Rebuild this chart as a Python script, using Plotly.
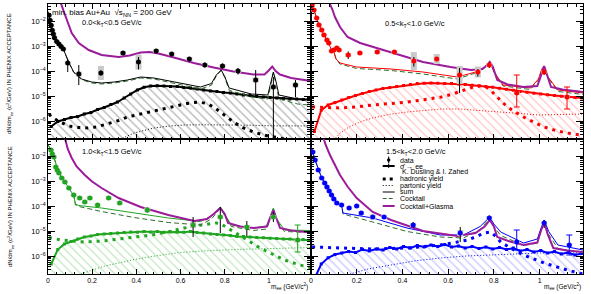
import plotly.graph_objects as go

# ---------------------------------------------------------------- data
# all yields are stored as log10(dN/dm_ee)
hist_m = [0.015, 0.045, 0.075, 0.105, 0.135, 0.165, 0.195, 0.225, 0.255, 0.285,
          0.315, 0.345, 0.375, 0.405, 0.435, 0.465, 0.495, 0.525, 0.555, 0.585,
          0.615, 0.645, 0.675, 0.705, 0.735, 0.765, 0.795, 0.825, 0.855, 0.885,
          0.915, 0.945, 0.975, 1.005, 1.035, 1.065, 1.095, 1.125, 1.155, 1.185]

# ---- panel 1 : 0.0<kT<0.5
tl_x = [0.005, 0.01, 0.015, 0.02, 0.025, 0.03, 0.04, 0.05, 0.06, 0.07,
        0.09, 0.14, 0.24, 0.34, 0.41, 0.49, 0.56, 0.64, 0.71, 0.79, 0.86, 0.94, 1.02, 1.12]
tl_y = [-1.75, -1.95, -2.15, -2.35, -2.5, -2.65, -2.8, -2.9, -3.0, -3.1,
        -3.66, -4.1, -4.06, -3.26, -3.62, -3.18, -3.3, -3.5, -3.74, -3.78, -3.98, -4.34, -4.62, -4.54]
tl_elo = [0.03, 0.03, 0.03, 0.03, 0.03, 0.03, 0.03, 0.03, 0.04, 0.05,
          0.36, 0.44, 0.1, 0.08, 0.3, 0.08, 0.08, 0.08, 0.1, 0.1, 0.14, 0.6, 2.5, 0.48]
tl_ehi = [0.03, 0.03, 0.03, 0.03, 0.03, 0.03, 0.03, 0.03, 0.04, 0.05,
          0.16, 0.36, 0.1, 0.07, 0.2, 0.08, 0.08, 0.08, 0.1, 0.1, 0.12, 0.4, 0.4, 0.2]
tl_sys = [0.06, 0.06, 0.06, 0.06, 0.06, 0.06, 0.06, 0.06, 0.06, 0.06,
          0.06, 0.1, 0.28, 0.08, 0.3, 0.08, 0.08, 0.08, 0.08, 0.08, 0.08, 0.1, 0.1, 0.1]
tl_cbar = [0, 0, 0, 0, 0, 0, 0, 0, 0, 0, 0, 0, 0, 0, 0, 0, 0, 0, 0, 0, 0, 0, 0, 0]
tl_glasma_x = [0.05, 0.054, 0.07, 0.086, 0.108, 0.14, 0.185, 0.243, 0.32, 0.37, 0.42, 0.46, 0.5,
               0.57, 0.66, 0.75, 0.84, 0.93, 0.98, 1.0, 1.015, 1.03, 1.05, 1.1, 1.19]
tl_glasma_y = [-1.0, -1.14, -1.55, -1.94, -2.46, -2.86, -3.14, -3.34, -3.42, -3.36, -3.24, -3.22, -3.28,
               -3.44, -3.66, -3.84, -4.0, -4.12, -4.12, -3.95, -3.8, -3.98, -4.12, -4.26, -4.38]
tl_sum_x = [0.0, 0.01, 0.02, 0.03, 0.05, 0.07, 0.094, 0.117, 0.153, 0.198, 0.243, 0.3, 0.36, 0.42,
            0.48, 0.57, 0.69, 0.74, 0.762, 0.784, 0.8, 0.82, 0.92, 0.995, 1.008, 1.02, 1.032, 1.045, 1.13, 1.19]
tl_sum_y = [-1.6, -1.95, -2.35, -2.65, -2.9, -3.1, -3.62, -4.02, -4.3, -4.42, -4.46, -4.42, -4.34, -4.22,
            -4.26, -4.42, -4.62, -4.48, -4.14, -3.94, -4.2, -4.66, -4.9, -4.94, -4.4, -4.02, -4.4, -4.94, -5.1, -5.12]
tl_cock_y = [-1.6, -1.95, -2.35, -2.65, -2.9, -3.1, -3.62, -4.04, -4.33, -4.46, -4.5, -4.46, -4.38, -4.26,
             -4.3, -4.48, -4.7, -4.55, -4.18, -3.96, -4.24, -4.75, -5.02, -5.1, -4.5, -4.05, -4.5, -5.1, -5.3, -5.35]
tl_hist = [-6.2, -6.0, -5.92, -5.84, -5.8, -5.7, -5.64, -5.52, -5.44, -5.32,
           -5.22, -5.06, -4.9, -4.74, -4.63, -4.58, -4.57, -4.58, -4.6, -4.6,
           -4.64, -4.66, -4.7, -4.74, -4.78, -4.8, -4.84, -4.86, -4.9, -4.94,
           -4.96, -5.0, -5.02, -5.04, -5.06, -5.08, -5.1, -5.1, -5.12, -5.12]
tl_had_x = [0.005, 0.018, 0.05, 0.094, 0.14, 0.18, 0.22, 0.27, 0.32, 0.36, 0.42, 0.47, 0.52, 0.57,
            0.63, 0.68, 0.72, 0.75, 0.79, 0.84, 0.88, 0.93, 0.98, 1.02, 1.06, 1.12, 1.19]
tl_had_y = [-5.7, -5.82, -6.0, -6.18, -6.24, -6.26, -6.22, -6.1, -5.96, -5.82, -5.7, -5.6, -5.48, -5.38,
            -5.28, -5.22, -5.28, -5.42, -5.7, -6.02, -6.24, -6.42, -6.55, -6.62, -6.68, -6.75, -6.8]
tl_part_x = [0.3, 0.33, 0.39, 0.44, 0.48, 0.55, 0.62, 0.7, 0.77, 0.85, 0.92, 1.0, 1.07, 1.19]
tl_part_y = [-6.8, -6.7, -6.46, -6.34, -6.26, -6.18, -6.14, -6.13, -6.13, -6.14, -6.15, -6.17, -6.18, -6.18]

# ---- panel 2 : 0.5<kT<1.0
tr_x = [0.005, 0.013, 0.025, 0.035, 0.047, 0.057, 0.07, 0.078, 0.09, 0.1, 0.113, 0.123,
        0.163, 0.214, 0.29, 0.365, 0.45, 0.55, 0.65, 0.73, 0.78, 0.9, 1.02, 1.12]
tr_y = [-1.34, -1.54, -1.86, -2.14, -2.34, -2.54, -2.74, -2.86, -3.18, -3.14, -3.06, -3.14,
        -3.34, -3.26, -3.22, -3.22, -3.58, -3.5, -4.14, -4.02, -3.74, -4.86, -4.02, -5.02]
tr_elo = [0.03, 0.03, 0.03, 0.03, 0.03, 0.03, 0.03, 0.03, 0.03, 0.03, 0.03, 0.03,
          0.16, 0.05, 0.05, 0.05, 0.22, 0.06, 0.72, 0.18, 0.12, 0.56, 0.12, 0.48]
tr_ehi = [0.03, 0.03, 0.03, 0.03, 0.03, 0.03, 0.03, 0.03, 0.03, 0.03, 0.03, 0.03,
          0.14, 0.05, 0.05, 0.05, 0.16, 0.06, 0.28, 0.12, 0.08, 0.72, 0.08, 0.4]
tr_sys = [0.06, 0.06, 0.06, 0.06, 0.06, 0.06, 0.06, 0.06, 0.06, 0.06, 0.06, 0.06,
          0.08, 0.07, 0.07, 0.07, 0.36, 0.2, 0.36, 0.22, 0.08, 0.06, 0.06, 0.06]
tr_cbar = [0, 0, 0, 0, 0, 0, 0, 0, 0, 0, 0, 0, 0, 0, 0, 0, 0, 0, 0, 0, 0, 1, 0, 1]
tr_glasma_x = [0.075, 0.083, 0.095, 0.105, 0.127, 0.16, 0.215, 0.29, 0.377, 0.49, 0.61, 0.7, 0.75,
               0.77, 0.782, 0.795, 0.815, 0.86, 0.93, 0.99, 1.005, 1.02, 1.035, 1.05, 1.1, 1.19]
tr_glasma_y = [-1.0, -1.3, -1.55, -1.82, -2.22, -2.62, -2.86, -3.06, -3.3, -3.62, -3.82, -3.94, -3.9,
               -3.75, -3.62, -3.8, -4.34, -4.52, -4.62, -4.58, -4.2, -3.78, -4.2, -4.62, -4.72, -4.82]
tr_sum_x = [0.0, 0.013, 0.025, 0.035, 0.047, 0.057, 0.07, 0.078, 0.09, 0.1, 0.11, 0.127, 0.2, 0.35,
            0.49, 0.64, 0.72, 0.76, 0.782, 0.8, 0.84, 0.96, 0.995, 1.01, 1.02, 1.035, 1.08, 1.19]
tr_sum_y = [-1.3, -1.54, -1.86, -2.14, -2.34, -2.54, -2.74, -2.9, -3.12, -3.2, -3.5, -3.66, -3.82, -3.9,
            -4.02, -4.22, -4.02, -3.82, -3.62, -4.0, -4.54, -4.66, -4.3, -3.9, -3.78, -4.2, -4.74, -4.86]
tr_cock_y = [-1.3, -1.54, -1.86, -2.14, -2.34, -2.54, -2.74, -2.9, -3.12, -3.2, -3.52, -3.7, -3.88, -3.96,
             -4.1, -4.3, -4.06, -3.84, -3.62, -4.02, -4.58, -4.72, -4.34, -3.92, -3.78, -4.22, -4.8, -4.92]
tr_hist = [-6.4, -5.55, -5.34, -5.24, -5.14, -5.04, -4.96, -4.88, -4.8, -4.74,
           -4.68, -4.64, -4.6, -4.56, -4.52, -4.48, -4.47, -4.46, -4.47, -4.48,
           -4.48, -4.5, -4.52, -4.55, -4.57, -4.6, -4.63, -4.67, -4.71, -4.75,
           -4.8, -4.83, -4.87, -4.9, -4.93, -4.96, -4.99, -5.02, -5.04, -5.06]
tr_had_x = [0.005, 0.06, 0.127, 0.2, 0.27, 0.35, 0.42, 0.5, 0.57, 0.62, 0.67, 0.71, 0.74, 0.77,
            0.785, 0.81, 0.84, 0.88, 0.93, 0.98, 1.02, 1.07, 1.12, 1.19]
tr_had_y = [-5.42, -5.44, -5.46, -5.42, -5.34, -5.28, -5.22, -5.12, -5.02, -4.9, -4.74, -4.62, -4.58, -4.64,
            -4.74, -4.98, -5.26, -5.55, -5.82, -6.05, -6.22, -6.36, -6.46, -6.56]
tr_part_x = [0.1, 0.127, 0.17, 0.22, 0.27, 0.34, 0.42, 0.5, 0.57, 0.65, 0.71, 0.78, 0.86, 0.93, 1.0, 1.08, 1.19]
tr_part_y = [-6.75, -6.46, -6.2, -6.0, -5.86, -5.72, -5.62, -5.55, -5.5, -5.5, -5.54, -5.58, -5.62, -5.68,
             -5.74, -5.72, -5.7]

# ---- panel 3 : 1.0<kT<1.5
bl_x = [0.014, 0.02, 0.027, 0.036, 0.043, 0.05, 0.063, 0.077, 0.095, 0.117, 0.144, 0.167, 0.19,
        0.225, 0.275, 0.325, 0.45, 0.657, 0.78, 0.9, 1.02, 1.13]
bl_y = [-1.74, -1.9, -2.02, -2.42, -2.55, -2.66, -2.86, -3.02, -3.26, -3.54, -3.66, -3.82, -3.66,
        -3.94, -3.66, -3.86, -4.14, -4.74, -4.42, -4.82, -4.42, -5.34]
bl_elo = [0.03, 0.03, 0.03, 0.03, 0.03, 0.03, 0.03, 0.03, 0.03, 0.05, 0.06, 0.07, 0.06,
          0.08, 0.06, 0.08, 0.1, 0.48, 0.64, 0.36, 0.2, 0.48]
bl_ehi = [0.03, 0.03, 0.03, 0.03, 0.03, 0.03, 0.03, 0.03, 0.03, 0.05, 0.06, 0.07, 0.06,
          0.08, 0.06, 0.08, 0.1, 0.32, 0.4, 0.24, 0.2, 0.6]
bl_sys = [0.06, 0.06, 0.06, 0.06, 0.06, 0.06, 0.06, 0.06, 0.06, 0.07, 0.07, 0.07, 0.07,
          0.07, 0.07, 0.08, 0.1, 0.12, 0.08, 0.08, 0.08, 0.08]
bl_cbar = [0, 0, 0, 0, 0, 0, 0, 0, 0, 0, 0, 0, 0, 0, 0, 0, 0, 0, 0, 0, 0, 1]
bl_glasma_x = [0.07, 0.077, 0.09, 0.108, 0.13, 0.167, 0.2, 0.243, 0.32, 0.42, 0.545, 0.662, 0.72, 0.75,
               0.78, 0.8, 0.815, 0.87, 0.93, 0.99, 1.005, 1.02, 1.035, 1.05, 1.1, 1.19]
bl_glasma_y = [-1.0, -1.24, -1.7, -2.06, -2.4, -2.74, -3.0, -3.26, -3.66, -4.02, -4.34, -4.58, -4.5, -4.3,
               -4.06, -4.3, -4.66, -4.8, -4.86, -4.8, -4.5, -4.14, -4.5, -4.86, -4.96, -5.04]
bl_sum_x = [0.0, 0.014, 0.027, 0.05, 0.077, 0.095, 0.117, 0.125, 0.14, 0.243, 0.39, 0.545, 0.69, 0.74,
            0.78, 0.8, 0.83, 0.93, 0.99, 1.005, 1.02, 1.035, 1.07, 1.19]
bl_sum_y = [-1.5, -1.74, -2.02, -2.66, -3.02, -3.26, -3.56, -3.9, -3.96, -4.06, -4.26, -4.46, -4.6, -4.38,
            -4.02, -4.3, -4.74, -4.86, -4.78, -4.4, -4.06, -4.5, -4.94, -4.96]
bl_cock_y = [-1.5, -1.74, -2.02, -2.66, -3.02, -3.26, -3.56, -3.94, -4.0, -4.2, -4.44, -4.64, -4.74, -4.5,
             -4.08, -4.36, -4.8, -4.96, -4.9, -4.5, -4.1, -4.58, -5.0, -5.04]
bl_hist = [-6.3, -5.72, -5.5, -5.4, -5.3, -5.22, -5.18, -5.12, -5.1, -5.08,
           -5.06, -5.04, -5.02, -5.03, -5.0, -5.02, -5.0, -5.03, -5.01, -5.02,
           -5.03, -5.0, -5.04, -5.06, -5.1, -5.12, -5.14, -5.16, -5.2, -5.2,
           -5.22, -5.24, -5.25, -5.27, -5.28, -5.3, -5.3, -5.33, -5.32, -5.35]
bl_had_x = [0.005, 0.06, 0.167, 0.25, 0.32, 0.4, 0.47, 0.55, 0.617, 0.68, 0.725, 0.76, 0.78, 0.81,
            0.84, 0.9, 0.96, 1.02, 1.07, 1.14, 1.19]
bl_had_y = [-5.24, -5.34, -5.42, -5.38, -5.3, -5.22, -5.14, -5.0, -4.86, -4.76, -4.7, -4.66, -4.68, -4.84,
            -5.02, -5.34, -5.66, -5.92, -6.14, -6.34, -6.45]
bl_part_x = [0.15, 0.25, 0.38, 0.47, 0.59, 0.7, 0.85, 1.0, 1.19]
bl_part_y = [-6.7, -6.4, -6.14, -6.0, -5.85, -5.78, -5.72, -5.68, -5.64]

# ---- panel 4 : 1.5<kT<2.0
br_x = [0.008, 0.018, 0.032, 0.047, 0.06, 0.07, 0.08, 0.09, 0.1, 0.113, 0.134, 0.167, 0.2, 0.22,
        0.27, 0.32, 0.447, 0.653, 0.78, 0.9, 1.02, 1.13]
br_y = [-1.82, -2.14, -2.54, -2.86, -3.06, -3.22, -3.38, -3.54, -3.7, -3.86, -3.94, -4.06, -3.98, -4.26,
        -4.42, -4.42, -4.74, -5.06, -4.46, -5.42, -4.66, -5.54]
br_elo = [0.03, 0.03, 0.03, 0.03, 0.03, 0.03, 0.03, 0.03, 0.03, 0.03, 0.04, 0.05, 0.05, 0.06,
          0.07, 0.07, 0.12, 0.36, 0.1, 0.32, 0.2, 0.4]
br_ehi = [0.03, 0.03, 0.03, 0.03, 0.03, 0.03, 0.03, 0.03, 0.03, 0.03, 0.04, 0.05, 0.05, 0.06,
          0.07, 0.07, 0.12, 0.24, 0.1, 0.48, 0.12, 0.4]
br_sys = [0.06, 0.06, 0.06, 0.06, 0.06, 0.06, 0.06, 0.06, 0.06, 0.06, 0.06, 0.06, 0.06, 0.07,
          0.1, 0.07, 0.08, 0.12, 0.08, 0.06, 0.06, 0.06]
br_cbar = [0, 0, 0, 0, 0, 0, 0, 0, 0, 0, 0, 0, 0, 0, 0, 0, 0, 0, 0, 1, 0, 1]
br_glasma_x = [0.045, 0.053, 0.065, 0.083, 0.105, 0.127, 0.16, 0.2, 0.27, 0.35, 0.49, 0.64, 0.72, 0.76,
               0.782, 0.8, 0.815, 0.87, 0.93, 0.99, 1.005, 1.02, 1.035, 1.06, 1.12, 1.19]
br_glasma_y = [-1.0, -1.24, -1.55, -1.94, -2.35, -2.74, -3.2, -3.66, -4.22, -4.54, -4.98, -5.18, -5.06, -4.8,
               -4.54, -4.8, -5.22, -5.4, -5.54, -5.44, -5.0, -4.62, -5.1, -5.66, -5.76, -5.82]
br_sum_x = [0.0, 0.018, 0.047, 0.07, 0.09, 0.113, 0.134, 0.14, 0.27, 0.42, 0.566, 0.667, 0.74, 0.782,
            0.8, 0.83, 0.93, 0.99, 1.005, 1.02, 1.04, 1.08, 1.19]
br_sum_y = [-1.6, -2.14, -2.86, -3.22, -3.54, -3.86, -3.94, -4.26, -4.46, -4.86, -5.14, -5.14, -4.8, -4.42,
            -4.7, -5.02, -5.46, -5.3, -4.9, -4.54, -5.0, -5.54, -5.74]
br_cock_y = [-1.6, -2.14, -2.86, -3.22, -3.54, -3.86, -3.96, -4.3, -4.62, -5.0, -5.22, -5.26, -4.92, -4.46,
             -4.8, -5.16, -5.56, -5.46, -5.0, -4.62, -5.12, -5.68, -5.86]
br_hist = [-6.9, -6.3, -6.05, -5.92, -5.86, -5.8, -5.84, -5.72, -5.78, -5.7,
           -5.74, -5.64, -5.7, -5.6, -5.66, -5.56, -5.62, -5.54, -5.6, -5.52,
           -5.62, -5.58, -5.66, -5.6, -5.68, -5.62, -5.7, -5.64, -5.72, -5.66,
           -5.78, -5.72, -5.82, -5.76, -5.86, -5.8, -5.9, -5.84, -5.94, -5.88]
br_had_x = [0.005, 0.127, 0.27, 0.42, 0.5, 0.566, 0.63, 0.685, 0.73, 0.755, 0.785, 0.81, 0.83, 0.88,
            0.93, 0.98, 1.02, 1.07, 1.12, 1.19]
br_had_y = [-5.62, -5.66, -5.7, -5.66, -5.6, -5.54, -5.44, -5.34, -5.18, -5.06, -5.02, -5.2, -5.42, -5.7,
            -5.94, -6.12, -6.26, -6.4, -6.54, -6.7]
br_part_x = [0.17, 0.25, 0.35, 0.45, 0.566, 0.68, 0.785, 0.9, 1.0, 1.1, 1.19]
br_part_y = [-6.7, -6.5, -6.34, -6.18, -6.06, -5.98, -5.94, -5.9, -5.86, -5.86, -5.86]

panel_labels = ["0.0&lt;k<sub>T</sub>&lt;0.5 GeV/c", "0.5&lt;k<sub>T</sub>&lt;1.0 GeV/c",
                "1.0&lt;k<sub>T</sub>&lt;1.5 GeV/c", "1.5&lt;k<sub>T</sub>&lt;2.0 GeV/c"]
legend_labels = ["data", "σ̄ → ee", "K. Dusling & I. Zahed", "hadronic yield", "partonic yield",
                 "sum", "Cocktail", "Cocktail+Glasma"]

# ---------------------------------------------------------------- style
W, H = 591, 294
PURPLE = '#9b1b9b'
COCK = '#2e6e2e'
GRAY = '#c9c9c9'
FONT = 'Liberation Sans, Arial, sans-serif'


def pw(v):
    return [10 ** a for a in v]


def px_x(px):
    return px / W


def px_y(py):
    return 1 - py / H


panels = [
    dict(xa='x', ya='y', col='#000000', hatch='rgba(0,0,0,0.6)',
         x=tl_x, y=tl_y, elo=tl_elo, ehi=tl_ehi, sys=tl_sys, cbar=tl_cbar,
         gx=tl_glasma_x, gy=tl_glasma_y, sx=tl_sum_x, sy=tl_sum_y, cy=tl_cock_y,
         h=tl_hist, hx=tl_had_x, hy=tl_had_y, px=tl_part_x, py=tl_part_y),
    dict(xa='x2', ya='y2', col='#ff0000', hatch='rgba(255,0,0,0.45)',
         x=tr_x, y=tr_y, elo=tr_elo, ehi=tr_ehi, sys=tr_sys, cbar=tr_cbar,
         gx=tr_glasma_x, gy=tr_glasma_y, sx=tr_sum_x, sy=tr_sum_y, cy=tr_cock_y,
         h=tr_hist, hx=tr_had_x, hy=tr_had_y, px=tr_part_x, py=tr_part_y),
    dict(xa='x3', ya='y3', col='#1fa51f', hatch='rgba(31,165,31,0.55)',
         x=bl_x, y=bl_y, elo=bl_elo, ehi=bl_ehi, sys=bl_sys, cbar=bl_cbar,
         gx=bl_glasma_x, gy=bl_glasma_y, sx=bl_sum_x, sy=bl_sum_y, cy=bl_cock_y,
         h=bl_hist, hx=bl_had_x, hy=bl_had_y, px=bl_part_x, py=bl_part_y),
    dict(xa='x4', ya='y4', col='#0000ff', hatch='rgba(0,0,255,0.45)',
         x=br_x, y=br_y, elo=br_elo, ehi=br_ehi, sys=br_sys, cbar=br_cbar,
         gx=br_glasma_x, gy=br_glasma_y, sx=br_sum_x, sy=br_sum_y, cy=br_cock_y,
         h=br_hist, hx=br_had_x, hy=br_had_y, px=br_part_x, py=br_part_y),
]

fig = go.Figure()
common = dict(showlegend=False, hoverinfo='skip')

for p in panels:
    ax = dict(xaxis=p['xa'], yaxis=p['ya'])
    col = p['col']
    # baseline for the hatched area
    fig.add_trace(go.Scatter(x=hist_m, y=[1e-9 for _ in hist_m], mode='lines',
                             line=dict(width=0, color='rgba(0,0,0,0)'), **ax, **common))
    fig.add_trace(go.Scatter(x=hist_m, y=pw(p['h']), mode='lines+markers',
                             line=dict(color=col, width=2),
                             marker=dict(symbol='square', size=3, color=col),
                             fill='tonexty', fillcolor='rgba(0,0,0,0)',
                             fillpattern=dict(shape='\\', fgcolor=p['hatch'], bgcolor='rgba(0,0,0,0)',
                                              size=6, solidity=0.2),
                             **ax, **common))
    # partonic / hadronic
    fig.add_trace(go.Scatter(x=p['px'], y=pw(p['py']), mode='lines',
                             line=dict(color=col, width=1, dash='1px,2px'), **ax, **common))
    fig.add_trace(go.Scatter(x=p['hx'], y=pw(p['hy']), mode='lines',
                             line=dict(color=col, width=3, dash='3px,5px'), **ax, **common))
    # cocktail, sum, glasma
    fig.add_trace(go.Scatter(x=p['sx'], y=pw(p['cy']), mode='lines',
                             line=dict(color=COCK, width=1, dash='5px,3px'), **ax, **common))
    fig.add_trace(go.Scatter(x=p['sx'], y=pw(p['sy']), mode='lines',
                             line=dict(color=col, width=1), **ax, **common))
    fig.add_trace(go.Scatter(x=p['gx'], y=pw(p['gy']), mode='lines',
                             line=dict(color=PURPLE, width=2), **ax, **common))
    # data: systematic boxes
    yv = pw(p['y'])
    sys_hi = [10 ** (a + s) - 10 ** a for a, s in zip(p['y'], p['sys'])]
    sys_lo = [10 ** a - 10 ** (a - s) for a, s in zip(p['y'], p['sys'])]
    fig.add_trace(go.Scatter(x=p['x'], y=yv, mode='markers', marker=dict(size=1, color='rgba(0,0,0,0)'),
                             error_y=dict(type='data', symmetric=False, array=sys_hi, arrayminus=sys_lo,
                                          color=GRAY, thickness=6, width=0),
                             **ax, **common))
    # data: statistical bars and markers
    for flag in (0, 1):
        idx = [i for i, c in enumerate(p['cbar']) if c == flag]
        if not idx:
            continue
        xs = [p['x'][i] for i in idx]
        ys = [p['y'][i] for i in idx]
        ehi = [10 ** (p['y'][i] + p['ehi'][i]) - 10 ** p['y'][i] for i in idx]
        elo = [10 ** p['y'][i] - 10 ** (p['y'][i] - p['elo'][i]) for i in idx]
        fig.add_trace(go.Scatter(x=xs, y=pw(ys), mode='markers',
                                 marker=dict(symbol='circle', size=5, color=col),
                                 error_y=dict(type='data', symmetric=False, array=ehi, arrayminus=elo,
                                              color=('#000000' if flag == 0 else col),
                                              thickness=1, width=(0 if flag == 0 else 3)),
                                 **ax, **common))

# ---------------------------------------------------------------- axes
xl = [46 / W, 310 / W]
xr = [310 / W, 583 / W]
yt = [1 - 139 / H, 1 - 4 / H]
yb = [1 - 274 / H, 1 - 139 / H]


def xaxis(domain, anchor, labels):
    return dict(domain=domain, anchor=anchor, range=[0, 1.19], tick0=0, dtick=0.2,
                ticks='inside', ticklen=5, tickwidth=1, tickcolor='black',
                showline=True, linecolor='black', linewidth=1, mirror='allticks',
                showgrid=False, zeroline=False, showticklabels=labels,
                tickfont=dict(size=7, color='black', family=FONT),
                minor=dict(dtick=0.04, ticks='inside', ticklen=2.5, tickcolor='black', showgrid=False))


def yaxis(domain, anchor, labels):
    return dict(domain=domain, anchor=anchor, type='log', range=[-6.7, -1.3], dtick=1,
                exponentformat='power', showexponent='all',
                ticks='inside', ticklen=7, tickwidth=1, tickcolor='black',
                showline=True, linecolor='black', linewidth=1, mirror='allticks',
                showgrid=False, zeroline=False, showticklabels=labels,
                tickfont=dict(size=6, color='black', family=FONT),
                minor=dict(ticks='inside', ticklen=3.5, tickcolor='black', showgrid=False))


fig.update_layout(
    width=W, height=H, margin=dict(l=0, r=0, t=0, b=0),
    paper_bgcolor='white', plot_bgcolor='white',
    font=dict(family=FONT, color='black'),
    xaxis=xaxis(xl, 'y', False), yaxis=yaxis(yt, 'x', True),
    xaxis2=xaxis(xr, 'y2', False), yaxis2=yaxis(yt, 'x2', False),
    xaxis3=xaxis(xl, 'y3', True), yaxis3=yaxis(yb, 'x3', True),
    xaxis4=xaxis(xr, 'y4', True), yaxis4=yaxis(yb, 'x4', False),
)

ann = []
ytitle = "dN/dm<sub>ee</sub> (c<sup>2</sup>/GeV) IN PHENIX ACCEPTANCE"
for cy in (73, 206):
    ann.append(dict(text=ytitle, x=px_x(8), y=px_y(cy), xref='paper', yref='paper',
                    textangle=-90, showarrow=False, font=dict(size=6),
                    xanchor='center', yanchor='middle'))
for rx in (309, 583):
    ann.append(dict(text="m<sub>ee</sub> (GeV/c<sup>2</sup>)", x=px_x(rx), y=px_y(286),
                    xref='paper', yref='paper', showarrow=False, font=dict(size=6.5),
                    xanchor='right', yanchor='middle'))
ann.append(dict(text="min. bias Au+Au  √s<sub>NN</sub> = 200 GeV", x=px_x(48), y=px_y(13),
                xref='paper', yref='paper', showarrow=False, font=dict(size=8),
                xanchor='left', yanchor='middle'))
for (lx, ly), txt in zip([(78, 23), (382, 24), (78, 152), (383, 152)], panel_labels):
    ann.append(dict(text=txt, x=px_x(lx), y=px_y(ly), xref='paper', yref='paper',
                    showarrow=False, font=dict(size=7.5), xanchor='left', yanchor='middle'))

leg_rows = [160, 166, 172, 179, 185.5, 192, 198.5, 206]
leg_x = [397, 397, 399, 397, 397, 397, 397, 397]
for lbl, ry, lx in zip(legend_labels, leg_rows, leg_x):
    ann.append(dict(text=lbl, x=px_x(lx), y=px_y(ry), xref='paper', yref='paper',
                    showarrow=False, font=dict(size=7), xanchor='left', yanchor='middle'))
fig.update_layout(annotations=ann)

shapes = []
sx0, sx1 = px_x(382), px_x(394)
# data
shapes.append(dict(type='circle', xref='paper', yref='paper', x0=px_x(386.3), x1=px_x(389.7),
                   y0=px_y(161.7), y1=px_y(158.3), fillcolor='black', line=dict(width=0)))
shapes.append(dict(type='line', xref='paper', yref='paper', x0=px_x(388), x1=px_x(388),
                   y0=px_y(163.5), y1=px_y(156.5), line=dict(color='black', width=1)))
# sigma -> ee
shapes.append(dict(type='line', xref='paper', yref='paper', x0=sx0, x1=sx1,
                   y0=px_y(166), y1=px_y(166), line=dict(color='black', width=2)))
shapes.append(dict(type='line', xref='paper', yref='paper', x0=px_x(388), x1=px_x(388),
                   y0=px_y(168), y1=px_y(164), line=dict(color='black', width=1)))
# hadronic
shapes.append(dict(type='line', xref='paper', yref='paper', x0=sx0, x1=sx1,
                   y0=px_y(179), y1=px_y(179), line=dict(color='black', width=3, dash='3px,4px')))
# partonic
shapes.append(dict(type='line', xref='paper', yref='paper', x0=sx0, x1=sx1,
                   y0=px_y(185.5), y1=px_y(185.5), line=dict(color='black', width=1, dash='1px,2px')))
# sum
shapes.append(dict(type='line', xref='paper', yref='paper', x0=sx0, x1=sx1,
                   y0=px_y(192), y1=px_y(192), line=dict(color='black', width=1)))
# cocktail
shapes.append(dict(type='line', xref='paper', yref='paper', x0=sx0, x1=sx1,
                   y0=px_y(198.5), y1=px_y(198.5), line=dict(color=COCK, width=1, dash='4px,2px')))
# cocktail + glasma
shapes.append(dict(type='line', xref='paper', yref='paper', x0=sx0, x1=sx1,
                   y0=px_y(206), y1=px_y(206), line=dict(color=PURPLE, width=2)))
fig.update_layout(shapes=shapes)

# the page's default body margin would shift the 591x294 figure; remove it
fig.write_html("out.html", config={'displayModeBar': False},
               post_script="document.body.style.margin='0';document.body.style.overflow='hidden';")
